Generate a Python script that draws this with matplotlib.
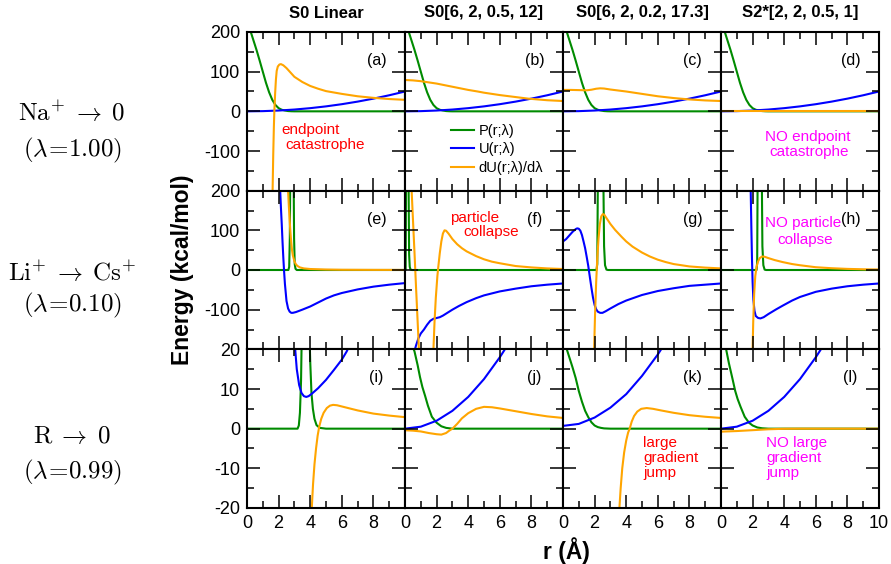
import matplotlib
matplotlib.use("Agg")
import matplotlib.pyplot as plt
from matplotlib.ticker import FixedLocator

plt.rcParams['font.family'] = ['Liberation Sans', 'DejaVu Sans']
plt.rcParams['mathtext.fontset'] = 'cm'
plt.rcParams['axes.unicode_minus'] = False

GREEN = '#008b00'
BLUE = '#0000ff'
ORANGE = '#ffa500'

col_titles = ['S0 Linear', 'S0[6, 2, 0.5, 12]', 'S0[6, 2, 0.2, 17.3]', 'S2*[2, 2, 0.5, 1]']
row_labels = [(r'$\mathrm{Na}^{+}\;\rightarrow\;0$', r'$(\lambda\!=\!1.00)$'),
              (r'$\mathrm{Li}^{+}\;\rightarrow\;\mathrm{Cs}^{+}$', r'$(\lambda\!=\!0.10)$'),
              (r'$\mathrm{R}\;\rightarrow\;0$', r'$(\lambda\!=\!0.99)$')]
panel_tags = ['(a)', '(b)', '(c)', '(d)', '(e)', '(f)', '(g)', '(h)', '(i)', '(j)', '(k)', '(l)']
legend_labels = ['P(r;λ)', 'U(r;λ)', 'dU(r;λ)/dλ']
x_ticks = [0, 2, 4, 6, 8, 10]
x_minor = [1, 3, 5, 7, 9]

# ---- row 1 : Na+ -> 0 (lambda = 1.00) ----
p_top = [(0, 235), (0.2, 205), (0.4, 180), (0.6, 155), (0.8, 128), (1.0, 100), (1.2, 72),
         (1.4, 48), (1.6, 29), (1.8, 16), (2.0, 8), (2.2, 4), (2.4, 2), (2.6, 0.7), (2.8, 0.2),
         (3.0, 0), (10, 0)]
u_top = [(0, 0), (1, 0.5), (2, 2), (3, 4.5), (4, 8), (5, 12.5), (6, 18), (7, 24.5), (8, 32),
         (9, 40.5), (10, 50)]
du_a = [(1.58, -260), (1.62, -200), (1.66, -110), (1.70, -40), (1.73, 0), (1.78, 45), (1.83, 80),
        (1.88, 102), (1.95, 113), (2.05, 118), (2.15, 119), (2.3, 116), (2.5, 109), (2.75, 98),
        (3.0, 87), (3.5, 74), (4, 64), (4.5, 57), (5, 51), (6, 44), (7, 38), (8, 34), (9, 31),
        (10, 29)]
du_b = [(0, 79), (0.5, 78), (1, 76), (1.5, 73), (2, 70), (2.5, 66), (3, 62), (3.5, 58), (4, 54),
        (4.6, 50), (5, 47), (6, 41), (7, 36), (7.8, 32), (9, 28), (10, 26)]
du_c = [(0, 54), (0.5, 54), (1, 53.5), (1.5, 53), (1.8, 54.5), (2.1, 57), (2.35, 58), (2.6, 57.5),
        (3, 55), (3.5, 52.5), (4, 50), (5, 44), (6, 38), (7, 33.5), (8, 30), (9, 27.5), (10, 26)]
du_d = [(0, 0), (10, 0)]

# ---- row 2 : Li+ -> Cs+ (lambda = 0.10) ----
p_e = [(0, 0), (2.62, 0), (2.67, 8), (2.71, 80), (2.74, 250), (2.95, 250), (2.98, 80), (3.02, 15),
       (3.07, 3), (3.15, 0), (10, 0)]
u_e = [(2.05, 240), (2.1, 200), (2.15, 155), (2.2, 115), (2.25, 70), (2.3, 30), (2.35, -5),
       (2.4, -35), (2.5, -78), (2.6, -97), (2.7, -105), (2.8, -108), (2.9, -108), (3.1, -106),
       (3.5, -100), (4.0, -92), (4.5, -82), (5.0, -72), (5.5, -64), (6, -58), (7, -49), (8, -42),
       (9, -37), (10, -33)]
du_e = [(2.55, 260), (2.6, 200), (2.65, 160), (2.7, 125), (2.75, 95), (2.8, 70), (2.85, 50),
        (2.9, 37), (3.0, 22), (3.1, 14), (3.2, 10), (3.35, 6.5), (3.6, 4), (4, 2.5), (5, 1.2),
        (6, 0.6), (8, 0.3), (10, 0.2)]
p_f = [(0, 0), (0.04, 0), (0.07, 250), (0.22, 250), (0.26, 40), (0.3, 8), (0.35, 1), (0.45, 0),
       (10, 0)]
u_f = [(0.55, -230), (0.63, -200), (0.7, -190), (0.85, -172), (1.0, -160), (1.2, -150),
       (1.4, -138), (1.6, -128), (1.8, -123), (2.0, -121), (2.2, -119), (2.4, -115), (2.6, -110),
       (2.8, -105), (3.0, -100), (3.4, -91), (3.9, -81), (4.5, -71), (5, -64), (6, -54), (7, -47),
       (8, -41), (9, -37), (10, -34)]
du_f = [(0.38, 260), (0.42, 200), (0.5, 130), (0.6, 45), (0.7, -45), (0.8, -130), (0.88, -200),
        (0.92, -260), (1.76, -260), (1.8, -200), (1.87, -130), (1.95, -70), (2.05, -15),
        (2.1, 5), (2.2, 42), (2.3, 72), (2.4, 92), (2.5, 100), (2.6, 99), (2.75, 92), (3.0, 78),
        (3.3, 65), (3.6, 55), (3.9, 47), (4.5, 35), (5, 27), (5.5, 21), (6, 17), (7, 10),
        (8, 6.5), (9, 4), (10, 2.5)]
p_g = [(0, 0), (2.12, 0), (2.17, 15), (2.21, 250), (2.55, 250), (2.6, 60), (2.66, 12), (2.75, 1),
       (2.85, 0), (10, 0)]
u_g = [(0, 72), (0.2, 78), (0.4, 87), (0.6, 96), (0.8, 103), (0.9, 105), (1.0, 104), (1.1, 99),
       (1.2, 88), (1.3, 72), (1.4, 55), (1.5, 33), (1.6, 10), (1.7, -18), (1.8, -45), (1.9, -70),
       (2.0, -88), (2.1, -99), (2.2, -105), (2.35, -108), (2.5, -108), (2.7, -104), (3.0, -97),
       (3.5, -86), (4, -77), (4.5, -70), (5, -63), (6, -53), (7, -46), (8, -40), (9, -37),
       (10, -34)]
du_g = [(1.92, -260), (1.97, -200), (2.03, -110), (2.1, -30), (2.17, 30), (2.25, 80), (2.33, 115),
        (2.42, 135), (2.52, 141), (2.62, 139), (2.75, 131), (3.0, 116), (3.3, 101), (3.7, 84),
        (4.0, 72), (4.4, 59), (5, 44), (5.5, 34), (6, 26), (6.5, 20), (7, 15), (8, 9), (9, 6),
        (10, 4)]
p_h = [(0, 0), (2.25, 0), (2.29, 20), (2.32, 250), (2.58, 250), (2.62, 60), (2.68, 12),
       (2.76, 1), (2.85, 0), (10, 0)]
u_h = [(1.84, 240), (1.88, 200), (1.92, 110), (1.96, 30), (2.0, -30), (2.05, -75), (2.12, -103),
       (2.2, -116), (2.35, -121), (2.5, -122), (2.7, -119), (3.0, -111), (3.5, -99), (3.9, -90),
       (4.5, -77), (5, -68), (6, -55), (7, -47), (8, -41), (9, -37), (10, -34)]
du_h = [(1.97, -260), (2.0, -200), (2.04, -130), (2.1, -60), (2.17, -15), (2.25, 8), (2.35, 22),
        (2.45, 30), (2.6, 34), (2.75, 33.5), (3.0, 30), (3.4, 25), (3.9, 20), (4.5, 15), (5, 12),
        (6, 7), (7, 4.5), (8, 2.8), (9, 1.8), (10, 1.2)]

# ---- row 3 : R -> 0 (lambda = 0.99) ----
p_i = [(0, 0), (3.2, 0), (3.28, 0.8), (3.35, 4), (3.42, 12), (3.47, 25), (3.95, 25), (4.0, 17),
       (4.08, 9), (4.17, 5), (4.27, 2.5), (4.4, 0.9), (4.6, 0.2), (5, 0), (10, 0)]
u_i = [(3.0, 24), (3.05, 20), (3.15, 15), (3.3, 11), (3.45, 9), (3.6, 8.2), (3.75, 8), (3.9, 8.2),
       (4.1, 8.8), (4.5, 10.2), (5, 12.3), (5.5, 14.8), (6, 17.4), (6.3, 19.4), (6.5, 21)]
du_i = [(4.05, -25), (4.1, -20), (4.18, -14), (4.27, -9), (4.37, -5), (4.47, -1.8), (4.57, 0.5),
        (4.7, 2.5), (4.85, 4), (5.05, 5.2), (5.25, 5.8), (5.45, 6), (5.7, 5.9), (6.2, 5.4),
        (7, 4.6), (8, 3.8), (9, 3.3), (10, 2.9)]
p_j = [(0, 26), (0.3, 22.5), (0.6, 19.5), (0.8, 16), (0.95, 13), (1.1, 10.5), (1.27, 8.3),
       (1.45, 5.8), (1.7, 3), (2.0, 1.5), (2.3, 0.6), (2.6, 0.2), (3, 0), (10, 0)]
u_low = [(0, 0), (1, 0.5), (2, 2), (3, 4.5), (4, 8), (5, 12.5), (6, 18), (6.5, 21.1)]
du_j = [(0, -0.4), (0.5, -0.5), (1.0, -0.7), (1.5, -1.1), (2.0, -1.4), (2.3, -1.5), (2.6, -1.1),
        (2.8, -0.5), (3.0, 0), (3.3, 1.2), (3.6, 2.6), (4.0, 3.9), (4.5, 5), (5.0, 5.5),
        (5.5, 5.4), (6, 5.1), (7, 4.4), (8, 3.7), (9, 3.1), (10, 2.7)]
p_k = [(0, 23.5), (0.2, 20.5), (0.4, 18), (0.6, 15.5), (0.8, 12.8), (1.0, 9.5), (1.2, 6.8),
       (1.4, 4.5), (1.6, 2.9), (1.8, 1.6), (2.0, 0.8), (2.2, 0.4), (2.4, 0.2), (2.6, 0.07),
       (3, 0), (10, 0)]
u_k = [(0, 0.7), (1, 1.2), (2, 2.8), (3, 5.3), (4, 8.7), (5, 13.3), (6, 18.7), (6.5, 21.8)]
du_k = [(3.5, -25), (3.57, -20), (3.65, -15), (3.75, -10), (3.87, -6), (4.0, -3), (4.12, -1),
        (4.22, 0), (4.35, 1.8), (4.5, 3.2), (4.7, 4.3), (4.95, 5), (5.3, 5.2), (5.7, 5),
        (6.2, 4.6), (7, 4), (8, 3.4), (9, 3), (10, 2.7)]
p_l = [(0, 26), (0.3, 20.5), (0.5, 16.5), (0.72, 12.7), (0.9, 9.5), (1.05, 7.5), (1.24, 5.5),
       (1.5, 3), (1.77, 1.5), (2.0, 0.8), (2.3, 0.3), (2.6, 0.1), (3, 0), (10, 0)]
du_l = [(0, -0.75), (1, -0.6), (2, -0.38), (3, -0.15), (4, -0.03), (5, 0), (10, 0)]

curves = [[(p_top, u_top, du_a), (p_top, u_top, du_b), (p_top, u_top, du_c), (p_top, u_top, du_d)],
          [(p_e, u_e, du_e), (p_f, u_f, du_f), (p_g, u_g, du_g), (p_h, u_h, du_h)],
          [(p_i, u_i, du_i), (p_j, u_low, du_j), (p_k, u_k, du_k), (p_l, u_low, du_l)]]

# annotations: (row, col, x, y, text, color, ha)
notes = [(0, 0, 2.15, -47, 'endpoint', 'red', 'left'),
         (0, 0, 2.45, -84, 'catastrophe', 'red', 'left'),
         (0, 3, 5.5, -64, 'NO endpoint', 'magenta', 'center'),
         (0, 3, 5.6, -102, 'catastrophe', 'magenta', 'center'),
         (1, 1, 4.4, 132, 'particle', 'red', 'center'),
         (1, 1, 5.45, 95, 'collapse', 'red', 'center'),
         (1, 3, 5.2, 118, 'NO particle', 'magenta', 'center'),
         (1, 3, 5.3, 76, 'collapse', 'magenta', 'center'),
         (2, 2, 5.08, -3.5, 'large', 'red', 'left'),
         (2, 2, 5.08, -7.3, 'gradient', 'red', 'left'),
         (2, 2, 5.08, -11.1, 'jump', 'red', 'left'),
         (2, 3, 2.86, -3.5, 'NO large', 'magenta', 'left'),
         (2, 3, 2.86, -7.3, 'gradient', 'magenta', 'left'),
         (2, 3, 2.86, -11.1, 'jump', 'magenta', 'left')]

fig, axes = plt.subplots(3, 4, figsize=(8.91, 5.64), dpi=100)
fig.subplots_adjust(left=247 / 891, right=879 / 891, top=1 - 32 / 564, bottom=1 - 508 / 564,
                    wspace=0, hspace=0)

for r in range(3):
    for c in range(4):
        ax = axes[r, c]
        p, u, du = curves[r][c]
        lp, = ax.plot([q[0] for q in p], [q[1] for q in p], color=GREEN, lw=1.5)
        lu, = ax.plot([q[0] for q in u], [q[1] for q in u], color=BLUE, lw=1.5)
        ld, = ax.plot([q[0] for q in du], [q[1] for q in du], color=ORANGE, lw=1.5)
        if r == 0 and c == 1:
            ax.legend([lp, lu, ld], legend_labels, loc='upper left', bbox_to_anchor=(0.29, 0.42),
                      frameon=False, fontsize=10.5, handlelength=1.6, handletextpad=0.3,
                      labelspacing=0.3, borderpad=0, borderaxespad=0)

        ax.set_xlim(0, 10)
        lim = 20 if r == 2 else 200
        ax.set_ylim(-lim, lim)
        ax.xaxis.set_major_locator(FixedLocator(x_ticks))
        ax.xaxis.set_minor_locator(FixedLocator(x_minor))
        ax.yaxis.set_major_locator(FixedLocator([-lim, -lim / 2, 0, lim / 2, lim]))
        ax.yaxis.set_minor_locator(FixedLocator([-3 * lim / 4, -lim / 4, lim / 4, 3 * lim / 4]))
        ax.tick_params(which='both', direction='in', top=True, right=True, width=1.1,
                       labelsize=13, pad=5)
        ax.tick_params(which='major', length=9.5)
        ax.tick_params(which='minor', length=5)
        ax.set_axisbelow(False)
        for s in ax.spines.values():
            s.set_linewidth(1.5)

        if c == 0:
            if r == 2:
                ax.set_yticklabels(['-20', '-10', '0', '10', '20'])
            else:
                ax.set_yticklabels(['', '-100', '0', '100', '200'])
        else:
            ax.set_yticklabels([])
        if r == 2:
            if c == 3:
                ax.set_xticklabels(['0', '2', '4', '6', '8', '10'])
            else:
                ax.set_xticklabels(['0', '2', '4', '6', '8', ''])
        else:
            ax.set_xticklabels([])

        ax.text(0.82, 0.82, panel_tags[r * 4 + c], transform=ax.transAxes, fontsize=11.5,
                ha='center', va='center')

for row, col, x, y, txt, colr, ha in notes:
    axes[row, col].text(x, y, txt, color=colr, fontsize=11, ha=ha, va='center')

for c, t in enumerate(col_titles):
    bb = axes[0, c].get_position()
    fig.text((bb.x0 + bb.x1) / 2, 1 - 13 / 564, t, fontsize=12, fontweight='bold',
             ha='center', va='center')

row_y = [(113, 150), (273, 305), (436, 472)]
for (l1, l2), (y1, y2) in zip(row_labels, row_y):
    fig.text(72 / 891, 1 - y1 / 564, l1, fontsize=18, ha='center', va='center')
    fig.text(72 / 891, 1 - y2 / 564, l2, fontsize=18, ha='center', va='center')

fig.text(183 / 891, 1 - 270 / 564, 'Energy (kcal/mol)', rotation=90, fontsize=16.5,
         fontweight='bold', ha='center', va='center')
fig.text(566 / 891, 1 - 551 / 564, 'r (Å)', fontsize=16.5, fontweight='bold',
         ha='center', va='center')

fig.savefig('out.png', dpi=100)
